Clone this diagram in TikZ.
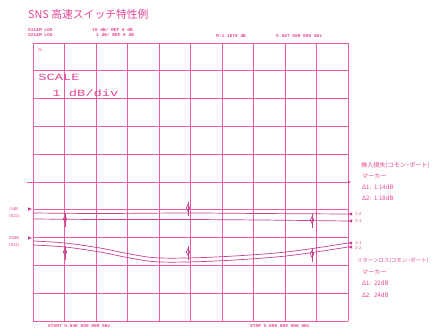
\documentclass[tikz,border=0pt]{standalone}
\usepackage{fontspec}
\setmainfont{Liberation Sans}
\setmonofont{Liberation Mono}
\newfontfamily\jp{Noto Sans CJK JP}
\usetikzlibrary{shapes.geometric}
\definecolor{gridpink}{RGB}{236,90,160}
\definecolor{txtpink}{RGB}{228,70,150}
\definecolor{tracec}{RGB}{195,65,145}
\tikzset{
  gridline/.style={draw=gridpink, line width=0.6pt},
  trace/.style={draw=tracec, line width=0.7pt},
  tiny/.style={text=txtpink, font=\ttfamily\bfseries\fontsize{4.5}{4.5}\selectfont, inner sep=0, anchor=west},
  note/.style={text=txtpink, font=\jp\fontsize{6.1}{6.1}\selectfont, inner sep=0, anchor=west},
  mk/.style={diamond, draw=tracec, line width=0.6pt, minimum width=3.6pt, minimum height=7pt, inner sep=0},
  lbl/.style={text=txtpink, font=\fontsize{4.3}{4.3}\selectfont, inner sep=0, anchor=west},
}
\begin{document}
\begin{tikzpicture}[x=1pt,y=-1pt]
\useasboundingbox (0,0) rectangle (432,329);
\fill[white] (0,0) rectangle (432,329);
% title
\node[text=txtpink, font=\jp\fontsize{10.8}{10.8}\selectfont, inner sep=0, anchor=west] (title) at (28,14) {SNS 高速スイッチ特性例};
% header
\node[tiny] (h1) at (28,30) {S11\&M LOG};
\node[tiny] (h2) at (28,35) {S21\&M LOG};
\node[tiny] (h3) at (92,30) {10 dB/ REF 0 dB};
\node[tiny] (h4) at (96,35) {1 dB/ REF 0 dB};
\node[tiny] (h5) at (216,36) {M-1.1870 dB};
\node[tiny] (h6) at (276,36) {5.867 500 000 GHz};
% grid
\foreach \i in {0,...,10} \draw[gridline] ({33+31.5*\i},43) -- ({33+31.5*\i},321);
\foreach \j in {0,...,10} \draw[gridline] (33,{43+27.8*\j}) -- (348,{43+27.8*\j});
\draw[gridline, line width=0.9pt] (27,182) -- (349,182);
\fill[tracec] (351,182) -- (348,180.6) -- (348,183.4) -- cycle;
\node[lbl] (pct) at (38,50) {\%};
% scale text
\node[text=txtpink, font=\ttfamily\fontsize{9.5}{9.5}\selectfont, inner sep=0, anchor=west, xscale=1.45] (sc1) at (38,77) {SCALE};
\node[text=txtpink, font=\ttfamily\fontsize{9.5}{9.5}\selectfont, inner sep=0, anchor=west, xscale=1.45] (sc2) at (52,93) {1 dB/div};
% reference labels left
\node[lbl] (r1) at (9,209) {-1dB};
\node[lbl] (r1b) at (9,216) {(S21)};
\node[lbl] (r2) at (9,238) {25dB};
\node[lbl] (r2b) at (9,245) {(S11)};
\fill[tracec] (32,209) -- (28,207.3) -- (28,210.7) -- cycle;
\fill[tracec] (32,238) -- (28,236.3) -- (28,239.7) -- cycle;
% upper traces
\draw[trace] plot[smooth] coordinates {(33,213) (100,213.5) (188,213) (260,213.5) (348,214)};
\draw[trace] plot[smooth] coordinates {(33,219) (100,219.5) (188,219.5) (260,220) (348,221)};
% lower traces
\draw[trace] plot[smooth, tension=0.55] coordinates {(33,241) (65,243) (100,248) (130,254) (160,258) (216,257) (286,252) (348,243)};
\draw[trace] plot[smooth, tension=0.55] coordinates {(33,245) (65,247) (100,252) (130,258) (160,262) (216,261) (286,256) (348,247)};
% right end arrows and labels
\foreach \y in {214, 221, 243, 247} {
  \fill[tracec] (348,\y) -- (352,\y-1.6) -- (352,\y+1.6) -- cycle;
}
\node[lbl] (e1) at (355,214) {1-2};
\node[lbl] (e2) at (355,221) {2-1};
\node[lbl] (e3) at (355,243) {1-1};
\node[lbl] (e4) at (355,248) {2-2};
% markers
\node[mk] (m1) at (65,219) {};
\node[mk] (m2) at (188,208) {};
\node[mk] (m3) at (312,220) {};
\node[mk] (m4) at (65,252) {};
\node[mk] (m5) at (188,252) {};
\node[mk] (m6) at (312,254) {};
\foreach \m in {m1,m2,m3,m4,m5,m6} \draw[trace, line width=0.5pt] ([yshift=-4pt]\m.south) -- ([yshift=2pt]\m.north);
% right notes
\node[note] (n1) at (361,166) {挿入損失(コモン−ポート)};
\node[note] (n2) at (362,176.5) {マーカー};
\node[note] (n3) at (362,187) {Δ1:\ \ 1.14dB};
\node[note] (n4) at (362,198) {Δ2:\ \ 1.18dB};
\node[note, font=\jp\fontsize{5.4}{5.4}\selectfont] (n5) at (357,261) {リターンロス(コモン−ポート)};
\node[note] (n6) at (362,272) {マーカー};
\node[note] (n7) at (362,283) {Δ1:\ \ 22dB};
\node[note] (n8) at (362,295) {Δ2:\ \ 24dB};
% bottom
\node[tiny] (b1) at (48,326) {START 5.840 000 000 GHz};
\node[tiny] (b2) at (250,326) {STOP 5.895 000 000 GHz};
\end{tikzpicture}
\end{document}
